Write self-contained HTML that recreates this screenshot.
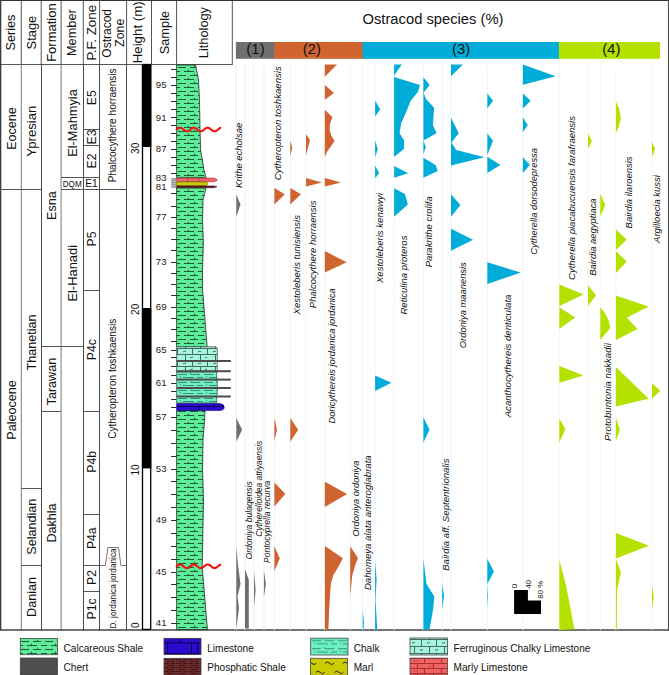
<!DOCTYPE html>
<html><head><meta charset="utf-8"><title>Ostracod chart</title>
<style>html,body{margin:0;padding:0;background:#fff;overflow:hidden}svg{display:block}text{font-family:"Liberation Sans",sans-serif}</style>
</head><body>
<svg width="669" height="675" viewBox="0 0 669 675" font-family='"Liberation Sans", sans-serif'>
<defs>
<pattern id="cshale" patternUnits="userSpaceOnUse" x="177" y="0" width="24" height="8">
 <rect width="24" height="8" fill="#5ded98"/>
 <path d="M1 3.5h8M13 3.5h8M-3 7.5h6M7 7.5h10M21 7.5h6" stroke="#22583a" stroke-width="1"/>
 <path d="M17.5 1.6v2M11.5 5.6v2" stroke="#22583a" stroke-width="0.9"/>
</pattern>
<pattern id="lg_cshale" patternUnits="userSpaceOnUse" x="20" y="638" width="24" height="8">
 <rect width="24" height="8" fill="#5ded98"/>
 <path d="M1 3.5h8M13 3.5h8M-3 7.5h6M7 7.5h10M21 7.5h6" stroke="#22583a" stroke-width="1"/>
 <path d="M17.5 1.6v2M11.5 5.6v2" stroke="#22583a" stroke-width="0.9"/>
</pattern>
<pattern id="fcl" patternUnits="userSpaceOnUse" x="177" y="348" width="30" height="12">
 <rect width="30" height="12" fill="#a6f5df"/>
 <path d="M0 0.5h30M0 6.5h30M0.5 0.5v6M15.5 0.5v6M8.5 6.5v6M23.5 6.5v6" stroke="#456a60" stroke-width="1" fill="none"/>
 <path d="M6 4c1-1.2 2 0 3-1M13 10c1-1.2 2 0 3-1M21 4c1-1.2 2 0 3-1M28 10c1-1.2 2 0 3-1" stroke="#2a3a36" stroke-width="0.8" fill="none"/>
</pattern>
<pattern id="lg_fcl" patternUnits="userSpaceOnUse" x="410" y="639" width="30" height="14">
 <rect width="30" height="14" fill="#a6f5df"/>
 <path d="M0 0.5h30M0 7.5h30M11.5 0.5v7M26.5 0.5v7M4.5 7.5v7M19.5 7.5v7" stroke="#3c5c54" stroke-width="0.9" fill="none"/>
 <path d="M2 4.5c1-1.5 2 0 3-1.2M17 4.5c1-1.5 2 0 3-1.2M10 11h3M25 11h3" stroke="#2a3a36" stroke-width="0.8" fill="none"/>
</pattern>
<pattern id="chalk" patternUnits="userSpaceOnUse" x="177" y="372" width="26" height="8">
 <rect width="26" height="8" fill="#6ef0c6"/>
 <path d="M1 2.5h9M14 2.5h9M6 5.5h11M20 5.5h8" stroke="#3a9070" stroke-width="1"/>
 <path d="M13.5 1v1.5M3.5 4v1.5" stroke="#3a9070" stroke-width="0.8"/>
</pattern>
<pattern id="lg_chalk" patternUnits="userSpaceOnUse" x="311" y="638" width="26" height="8.2">
 <rect width="26" height="8.2" fill="#6cf0c4"/>
 <path d="M1 2.5h9M14 2.5h9M6 5.8h11M20 5.8h8" stroke="#2f8a6c" stroke-width="0.9"/>
 <path d="M13.5 1v1.5M3.5 4.3v1.5" stroke="#2f8a6c" stroke-width="0.7"/>
</pattern>
<pattern id="lime" patternUnits="userSpaceOnUse" x="176.6" y="403" width="30" height="8">
 <rect width="30" height="8" fill="#2a0ccc"/>
 <path d="M0 3.5h30M7.5 0v3.5M22.5 3.5v4.5" stroke="#0a0050" stroke-width="0.9"/>
</pattern>
<pattern id="lg_lime" patternUnits="userSpaceOnUse" x="164" y="638.3" width="30" height="16">
 <rect width="30" height="16" fill="#2a0ccc"/>
 <path d="M0 4.5h30M0 15.5h30M15.5 0v4.5M3.5 4.5v11M27.5 4.5v11" stroke="#0a0050" stroke-width="1"/>
</pattern>
<pattern id="phos" patternUnits="userSpaceOnUse" x="164" y="658" width="12" height="4">
 <rect width="12" height="4" fill="#6a2c2c"/>
 <path d="M0 1.5h5M7 1.5h4M3 3.5h7" stroke="#3a1212" stroke-width="0.8"/>
</pattern>
<pattern id="marl" patternUnits="userSpaceOnUse" x="311" y="658" width="18" height="17">
 <rect width="18" height="17" fill="#c8c600"/>
 <path d="M2 5c2-3 3 1 5-1M10 13c2-3 3 1 5-1" stroke="#222" stroke-width="0.9" fill="none"/>
</pattern>
<pattern id="mlime" patternUnits="userSpaceOnUse" x="410" y="658" width="34" height="10">
 <rect width="34" height="10" fill="#f26262"/>
 <path d="M0 0.5h34M0 5.5h34M14.5 0.5v5M31.5 0.5v5M7.5 5.5v5M23.5 5.5v5" stroke="#9e2a2a" stroke-width="0.9"/>
 <path d="M3 3h6M18 8h5" stroke="#b84040" stroke-width="0.7"/>
</pattern>
</defs>

<rect x="0" y="0" width="669" height="675" fill="#fff"/>
<line x1="21.3" y1="0" x2="21.3" y2="64.5" stroke="#555" stroke-width="1"/>
<line x1="41.2" y1="0" x2="41.2" y2="64.5" stroke="#555" stroke-width="1"/>
<line x1="61.1" y1="0" x2="61.1" y2="64.5" stroke="#555" stroke-width="1"/>
<line x1="83.3" y1="0" x2="83.3" y2="64.5" stroke="#555" stroke-width="1"/>
<line x1="99.6" y1="0" x2="99.6" y2="64.5" stroke="#555" stroke-width="1"/>
<line x1="126.6" y1="0" x2="126.6" y2="64.5" stroke="#555" stroke-width="1"/>
<line x1="151.5" y1="0" x2="151.5" y2="64.5" stroke="#555" stroke-width="1"/>
<line x1="176.6" y1="0" x2="176.6" y2="64.5" stroke="#555" stroke-width="1"/>
<line x1="232.3" y1="0" x2="232.3" y2="64.5" stroke="#555" stroke-width="1"/>
<line x1="0" y1="64.5" x2="232.8" y2="64.5" stroke="#555" stroke-width="1.2"/>
<line x1="21.3" y1="64.5" x2="21.3" y2="630" stroke="#7a7a7a" stroke-width="1"/>
<line x1="41.5" y1="64.5" x2="41.5" y2="630" stroke="#4a4a4a" stroke-width="1"/>
<line x1="61.1" y1="64.5" x2="61.1" y2="630" stroke="#7a7a7a" stroke-width="1"/>
<line x1="83.5" y1="64.5" x2="83.5" y2="630" stroke="#4a4a4a" stroke-width="1"/>
<line x1="99.5" y1="64.5" x2="99.5" y2="630" stroke="#4a4a4a" stroke-width="1"/>
<line x1="126.5" y1="64.5" x2="126.5" y2="630" stroke="#4a4a4a" stroke-width="1"/>
<line x1="0" y1="0.5" x2="669" y2="0.5" stroke="#333" stroke-width="1.2"/>
<line x1="0.65" y1="0" x2="0.65" y2="630" stroke="#3a3a3a" stroke-width="1.3"/>
<line x1="668.5" y1="0" x2="668.5" y2="630.7" stroke="#4a4a4a" stroke-width="1.1"/>
<line x1="0" y1="630" x2="669" y2="630" stroke="#444" stroke-width="1.4"/>
<text transform="translate(15.47,32.60) rotate(-90)" text-anchor="middle" font-size="12.7"  fill="#111">Series</text>
<text transform="translate(35.94,32.60) rotate(-90)" text-anchor="middle" font-size="12.9"  fill="#111">Stage</text>
<text transform="translate(55.98,32.60) rotate(-90)" text-anchor="middle" font-size="13.0"  fill="#111">Formation</text>
<text transform="translate(76.11,32.60) rotate(-90)" text-anchor="middle" font-size="12.8"  fill="#111">Member</text>
<text transform="translate(96.22,32.60) rotate(-90)" text-anchor="middle" font-size="13.4"  fill="#111">P.F. Zone</text>
<text transform="translate(168.61,32.60) rotate(-90)" text-anchor="middle" font-size="12.8"  fill="#111">Sample</text>
<text transform="translate(208.21,32.60) rotate(-90)" text-anchor="middle" font-size="12.8"  fill="#111">Lithology</text>
<text transform="translate(142.39,32.30) rotate(-90)" text-anchor="middle" font-size="13.3"  fill="#111">Height (m)</text>
<text transform="translate(110.72,33.30) rotate(-90)" text-anchor="middle" font-size="12.0"  fill="#111">Ostracod</text>
<text transform="translate(123.96,32.80) rotate(-90)" text-anchor="middle" font-size="12.4"  fill="#111">Zone</text>
<line x1="0" y1="189.5" x2="41.2" y2="189.5" stroke="#555" stroke-width="1"/>
<line x1="61.1" y1="189.5" x2="126.6" y2="189.5" stroke="#555" stroke-width="1"/>
<line x1="61.1" y1="177.5" x2="99.6" y2="177.5" stroke="#555" stroke-width="1"/>
<line x1="83.3" y1="129.5" x2="99.6" y2="129.5" stroke="#555" stroke-width="1"/>
<line x1="83.3" y1="145.5" x2="99.6" y2="145.5" stroke="#555" stroke-width="1"/>
<line x1="83.3" y1="290.5" x2="99.6" y2="290.5" stroke="#555" stroke-width="1"/>
<line x1="41.2" y1="346.5" x2="83.3" y2="346.5" stroke="#555" stroke-width="1"/>
<line x1="41.2" y1="411.5" x2="61.1" y2="411.5" stroke="#555" stroke-width="1"/>
<line x1="83.3" y1="411.5" x2="99.6" y2="411.5" stroke="#555" stroke-width="1"/>
<line x1="21.3" y1="488.5" x2="41.2" y2="488.5" stroke="#555" stroke-width="1"/>
<line x1="83.3" y1="514.5" x2="99.6" y2="514.5" stroke="#555" stroke-width="1"/>
<line x1="21.3" y1="565.5" x2="41.2" y2="565.5" stroke="#555" stroke-width="1"/>
<line x1="83.3" y1="565.5" x2="99.6" y2="565.5" stroke="#555" stroke-width="1"/>
<line x1="83.3" y1="591.5" x2="99.6" y2="591.5" stroke="#555" stroke-width="1"/>
<polyline points="99.6,565.5 105.3,565.5 107.9,547.5 118.5,547.5 120.9,565.5 126.6,565.5" fill="none" stroke="#6a6a6a" stroke-width="0.9"/>
<text transform="translate(15.84,128.50) rotate(-90)" text-anchor="middle" font-size="12.6"  fill="#111">Eocene</text>
<text transform="translate(15.84,410.00) rotate(-90)" text-anchor="middle" font-size="12.6"  fill="#111">Paleocene</text>
<text transform="translate(36.35,131.10) rotate(-90)" text-anchor="middle" font-size="13.2"  fill="#111">Ypresian</text>
<text transform="translate(36.14,342.40) rotate(-90)" text-anchor="middle" font-size="12.6"  fill="#111">Thanetian</text>
<text transform="translate(36.14,526.70) rotate(-90)" text-anchor="middle" font-size="12.6"  fill="#111">Selandian</text>
<text transform="translate(36.14,597.00) rotate(-90)" text-anchor="middle" font-size="12.6"  fill="#111">Danian</text>
<text transform="translate(56.04,205.60) rotate(-90)" text-anchor="middle" font-size="12.6"  fill="#111">Esna</text>
<text transform="translate(56.04,381.60) rotate(-90)" text-anchor="middle" font-size="12.6"  fill="#111">Tarawan</text>
<text transform="translate(56.04,523.00) rotate(-90)" text-anchor="middle" font-size="12.6"  fill="#111">Dakhla</text>
<text transform="translate(77.11,123.00) rotate(-90)" text-anchor="middle" font-size="12.8"  fill="#111">El-Mahmyia</text>
<text transform="translate(76.94,273.30) rotate(-90)" text-anchor="middle" font-size="12.9"  fill="#111">El-Hanadi</text>
<text x="72.2" y="186.8" font-size="8.2" text-anchor="middle" fill="#111" >DQM</text>
<text transform="translate(96.39,97.70) rotate(-90)" text-anchor="middle" font-size="12.2"  fill="#111">E5</text>
<text transform="translate(96.39,137.00) rotate(-90)" text-anchor="middle" font-size="12.2"  fill="#111">E3</text>
<text transform="translate(96.39,161.00) rotate(-90)" text-anchor="middle" font-size="12.2"  fill="#111">E2</text>
<text transform="translate(96.39,239.00) rotate(-90)" text-anchor="middle" font-size="12.2"  fill="#111">P5</text>
<text transform="translate(96.39,349.70) rotate(-90)" text-anchor="middle" font-size="12.2"  fill="#111">P4c</text>
<text transform="translate(96.39,461.80) rotate(-90)" text-anchor="middle" font-size="12.2"  fill="#111">P4b</text>
<text transform="translate(96.39,538.20) rotate(-90)" text-anchor="middle" font-size="12.2"  fill="#111">P4a</text>
<text transform="translate(96.39,577.50) rotate(-90)" text-anchor="middle" font-size="12.2"  fill="#111">P2</text>
<text transform="translate(96.39,608.90) rotate(-90)" text-anchor="middle" font-size="12.2"  fill="#111">P1c</text>
<text x="91.5" y="187.2" font-size="10.2" text-anchor="middle" fill="#111" >E1</text>
<text transform="translate(116.14,125.30) rotate(-90)" text-anchor="middle" font-size="10.1"  fill="#111">Phalcocythere horraensis</text>
<text transform="translate(116.44,378.80) rotate(-90)" text-anchor="middle" font-size="10.1"  fill="#111">Cytheropteron toshkaensis</text>
<text transform="translate(115.99,588.40) rotate(-90)" text-anchor="middle" font-size="8.3"  fill="#111">D. jordanica jordanica</text>
<rect x="142.5" y="64.5" width="8.199999999999989" height="564.9" fill="#fff" stroke="#000" stroke-width="1.3"/>
<rect x="141.9" y="64.5" width="9.399999999999988" height="82.5" fill="#000"/>
<rect x="141.9" y="308" width="9.399999999999988" height="160.39999999999998" fill="#000"/>
<text transform="translate(139.04,148.30) rotate(-90)" text-anchor="middle" font-size="10.1"  fill="#111">30</text>
<text transform="translate(139.04,309.30) rotate(-90)" text-anchor="middle" font-size="10.1"  fill="#111">20</text>
<text transform="translate(139.04,470.00) rotate(-90)" text-anchor="middle" font-size="10.1"  fill="#111">10</text>
<text transform="translate(139.04,625.30) rotate(-90)" text-anchor="middle" font-size="10.1"  fill="#111">0</text>
<line x1="171.1" y1="69.5" x2="176.6" y2="69.5" stroke="#2a2a2a" stroke-width="1"/>
<line x1="171.1" y1="77.5" x2="176.6" y2="77.5" stroke="#2a2a2a" stroke-width="1"/>
<line x1="171.1" y1="85.5" x2="176.6" y2="85.5" stroke="#2a2a2a" stroke-width="1"/>
<line x1="171.1" y1="93.5" x2="176.6" y2="93.5" stroke="#2a2a2a" stroke-width="1"/>
<line x1="171.1" y1="101.5" x2="176.6" y2="101.5" stroke="#2a2a2a" stroke-width="1"/>
<line x1="171.1" y1="109.5" x2="176.6" y2="109.5" stroke="#2a2a2a" stroke-width="1"/>
<line x1="171.1" y1="117.5" x2="176.6" y2="117.5" stroke="#2a2a2a" stroke-width="1"/>
<line x1="171.1" y1="125.5" x2="176.6" y2="125.5" stroke="#2a2a2a" stroke-width="1"/>
<line x1="171.1" y1="133.5" x2="176.6" y2="133.5" stroke="#2a2a2a" stroke-width="1"/>
<line x1="171.1" y1="141.5" x2="176.6" y2="141.5" stroke="#2a2a2a" stroke-width="1"/>
<line x1="171.1" y1="149.5" x2="176.6" y2="149.5" stroke="#2a2a2a" stroke-width="1"/>
<line x1="171.1" y1="157.5" x2="176.6" y2="157.5" stroke="#2a2a2a" stroke-width="1"/>
<line x1="171.1" y1="165.5" x2="176.6" y2="165.5" stroke="#2a2a2a" stroke-width="1"/>
<line x1="171.1" y1="173.5" x2="176.6" y2="173.5" stroke="#2a2a2a" stroke-width="1"/>
<line x1="171.1" y1="193.5" x2="176.6" y2="193.5" stroke="#2a2a2a" stroke-width="1"/>
<line x1="171.1" y1="206.5" x2="176.6" y2="206.5" stroke="#2a2a2a" stroke-width="1"/>
<line x1="171.1" y1="217.5" x2="176.6" y2="217.5" stroke="#2a2a2a" stroke-width="1"/>
<line x1="171.1" y1="228.5" x2="176.6" y2="228.5" stroke="#2a2a2a" stroke-width="1"/>
<line x1="171.1" y1="239.5" x2="176.6" y2="239.5" stroke="#2a2a2a" stroke-width="1"/>
<line x1="171.1" y1="250.5" x2="176.6" y2="250.5" stroke="#2a2a2a" stroke-width="1"/>
<line x1="171.1" y1="262.5" x2="176.6" y2="262.5" stroke="#2a2a2a" stroke-width="1"/>
<line x1="171.1" y1="273.5" x2="176.6" y2="273.5" stroke="#2a2a2a" stroke-width="1"/>
<line x1="171.1" y1="284.5" x2="176.6" y2="284.5" stroke="#2a2a2a" stroke-width="1"/>
<line x1="171.1" y1="295.5" x2="176.6" y2="295.5" stroke="#2a2a2a" stroke-width="1"/>
<line x1="171.1" y1="307.5" x2="176.6" y2="307.5" stroke="#2a2a2a" stroke-width="1"/>
<line x1="171.1" y1="318.5" x2="176.6" y2="318.5" stroke="#2a2a2a" stroke-width="1"/>
<line x1="171.1" y1="329.5" x2="176.6" y2="329.5" stroke="#2a2a2a" stroke-width="1"/>
<line x1="171.1" y1="341.5" x2="176.6" y2="341.5" stroke="#2a2a2a" stroke-width="1"/>
<line x1="171.1" y1="350.5" x2="176.6" y2="350.5" stroke="#2a2a2a" stroke-width="1"/>
<line x1="171.1" y1="357.5" x2="176.6" y2="357.5" stroke="#2a2a2a" stroke-width="1"/>
<line x1="171.1" y1="366.5" x2="176.6" y2="366.5" stroke="#2a2a2a" stroke-width="1"/>
<line x1="171.1" y1="375.5" x2="176.6" y2="375.5" stroke="#2a2a2a" stroke-width="1"/>
<line x1="171.1" y1="383.5" x2="176.6" y2="383.5" stroke="#2a2a2a" stroke-width="1"/>
<line x1="171.1" y1="391.5" x2="176.6" y2="391.5" stroke="#2a2a2a" stroke-width="1"/>
<line x1="171.1" y1="399.5" x2="176.6" y2="399.5" stroke="#2a2a2a" stroke-width="1"/>
<line x1="171.1" y1="407.5" x2="176.6" y2="407.5" stroke="#2a2a2a" stroke-width="1"/>
<line x1="171.1" y1="417.5" x2="176.6" y2="417.5" stroke="#2a2a2a" stroke-width="1"/>
<line x1="171.1" y1="430.5" x2="176.6" y2="430.5" stroke="#2a2a2a" stroke-width="1"/>
<line x1="171.1" y1="443.5" x2="176.6" y2="443.5" stroke="#2a2a2a" stroke-width="1"/>
<line x1="171.1" y1="456.5" x2="176.6" y2="456.5" stroke="#2a2a2a" stroke-width="1"/>
<line x1="171.1" y1="469.5" x2="176.6" y2="469.5" stroke="#2a2a2a" stroke-width="1"/>
<line x1="171.1" y1="481.5" x2="176.6" y2="481.5" stroke="#2a2a2a" stroke-width="1"/>
<line x1="171.1" y1="494.5" x2="176.6" y2="494.5" stroke="#2a2a2a" stroke-width="1"/>
<line x1="171.1" y1="507.5" x2="176.6" y2="507.5" stroke="#2a2a2a" stroke-width="1"/>
<line x1="171.1" y1="520.5" x2="176.6" y2="520.5" stroke="#2a2a2a" stroke-width="1"/>
<line x1="171.1" y1="533.5" x2="176.6" y2="533.5" stroke="#2a2a2a" stroke-width="1"/>
<line x1="171.1" y1="546.5" x2="176.6" y2="546.5" stroke="#2a2a2a" stroke-width="1"/>
<line x1="171.1" y1="559.5" x2="176.6" y2="559.5" stroke="#2a2a2a" stroke-width="1"/>
<line x1="171.1" y1="572.5" x2="176.6" y2="572.5" stroke="#2a2a2a" stroke-width="1"/>
<line x1="171.1" y1="584.5" x2="176.6" y2="584.5" stroke="#2a2a2a" stroke-width="1"/>
<line x1="171.1" y1="597.5" x2="176.6" y2="597.5" stroke="#2a2a2a" stroke-width="1"/>
<line x1="171.1" y1="610.5" x2="176.6" y2="610.5" stroke="#2a2a2a" stroke-width="1"/>
<line x1="171.1" y1="623.5" x2="176.6" y2="623.5" stroke="#2a2a2a" stroke-width="1"/>
<rect x="171.3" y="178" width="5.3" height="10" fill="#9a9a9a"/>
<line x1="171.3" y1="179.5" x2="176.6" y2="179.5" stroke="#c8c8c8" stroke-width="0.6"/>
<line x1="171.3" y1="181.5" x2="176.6" y2="181.5" stroke="#c8c8c8" stroke-width="0.6"/>
<line x1="171.3" y1="183.5" x2="176.6" y2="183.5" stroke="#c8c8c8" stroke-width="0.6"/>
<line x1="171.3" y1="185.5" x2="176.6" y2="185.5" stroke="#c8c8c8" stroke-width="0.6"/>
<line x1="171.3" y1="187" x2="176.6" y2="187" stroke="#c8c8c8" stroke-width="0.6"/>
<text x="166.5" y="88.0" font-size="9.6" text-anchor="end" fill="#1a1a1a" >95</text>
<text x="166.5" y="120.5" font-size="9.6" text-anchor="end" fill="#1a1a1a" >91</text>
<text x="166.5" y="152.39999999999998" font-size="9.6" text-anchor="end" fill="#1a1a1a" >87</text>
<text x="166.5" y="181.39999999999998" font-size="9.6" text-anchor="end" fill="#1a1a1a" >83</text>
<text x="166.5" y="190.0" font-size="9.6" text-anchor="end" fill="#1a1a1a" >81</text>
<text x="166.5" y="220.1" font-size="9.6" text-anchor="end" fill="#1a1a1a" >77</text>
<text x="166.5" y="265.09999999999997" font-size="9.6" text-anchor="end" fill="#1a1a1a" >73</text>
<text x="166.5" y="309.7" font-size="9.6" text-anchor="end" fill="#1a1a1a" >69</text>
<text x="166.5" y="353.2" font-size="9.6" text-anchor="end" fill="#1a1a1a" >65</text>
<text x="166.5" y="386.09999999999997" font-size="9.6" text-anchor="end" fill="#1a1a1a" >61</text>
<text x="166.5" y="420.09999999999997" font-size="9.6" text-anchor="end" fill="#1a1a1a" >57</text>
<text x="166.5" y="471.7" font-size="9.6" text-anchor="end" fill="#1a1a1a" >53</text>
<text x="166.5" y="522.7" font-size="9.6" text-anchor="end" fill="#1a1a1a" >49</text>
<text x="166.5" y="574.7" font-size="9.6" text-anchor="end" fill="#1a1a1a" >45</text>
<text x="166.5" y="626.4000000000001" font-size="9.6" text-anchor="end" fill="#1a1a1a" >41</text>
<polygon points="176.6,65 195.6,65 198.5,80 199.5,100 200,130 200.6,150 204,170 206,177.4 176.6,177.4" fill="url(#cshale)" stroke="#2a2a2a" stroke-width="0.8"/>
<polygon points="176.6,188 206,188 203,200 202.5,220 203.4,242 202.5,270 202.6,290 205,320 207.2,346.8 176.6,346.8" fill="url(#cshale)" stroke="#2a2a2a" stroke-width="0.8"/>
<polygon points="176.6,410.6 205,410.6 204.6,420 203,440 202.5,470 203.5,500 202.2,567 207.4,629.5 176.6,629.5" fill="url(#cshale)" stroke="#2a2a2a" stroke-width="0.8"/>
<path d="M176.6 346.8 H216 Q217.5 347.5 217.3 350 V372 H176.6Z" fill="url(#fcl)" stroke="#3a4a46" stroke-width="0.7"/>
<path d="M176.6 372 H216.5 Q218.5 387 216.5 403 H176.6Z" fill="url(#chalk)" stroke="#3a4a46" stroke-width="0.7"/>
<rect x="176.6" y="360.0" width="54.2" height="2" fill="#4d4d4d"/>
<rect x="176.6" y="370.2" width="54.2" height="2" fill="#4d4d4d"/>
<rect x="176.6" y="378.6" width="54.2" height="2" fill="#4d4d4d"/>
<rect x="176.6" y="387.0" width="54.2" height="2" fill="#4d4d4d"/>
<rect x="176.6" y="395.5" width="54.2" height="2" fill="#4d4d4d"/>
<path d="M176.6 403.6 H220 Q224.5 404.5 224.2 407.1 Q224.5 410 220 410.6 H176.6Z" fill="url(#lime)" stroke="#1a0080" stroke-width="0.6"/>
<path d="M176.6 178.1 H214.5 L217.5 179.9 L214.5 181.7 H176.6Z" fill="#f26464" stroke="#a03030" stroke-width="0.6"/>
<line x1="187.5" y1="178.1" x2="187.5" y2="181.7" stroke="#803030" stroke-width="0.6"/>
<line x1="199" y1="178.1" x2="199" y2="181.7" stroke="#803030" stroke-width="0.6"/>
<path d="M176.6 182 H206.5 Q209 183.7 206.5 185.5 H176.6Z" fill="#cccb00" stroke="#6a6a00" stroke-width="0.6"/>
<path d="M176.6 185.9 H214 L217 186.8 L214 187.7 H176.6Z" fill="#5a1c1c" stroke="#3a0a0a" stroke-width="0.5"/>
<polyline points="176.6,129.50 177.1,129.09 177.6,128.70 178.1,128.36 178.6,128.07 179.1,127.86 179.6,127.73 180.1,127.70 180.6,127.76 181.1,127.91 181.6,128.15 182.1,128.45 182.6,128.81 183.1,129.21 183.6,129.62 184.2,130.03 184.7,130.40 185.2,130.73 185.7,131.00 186.2,131.19 186.7,131.29 187.2,131.29 187.7,131.20 188.2,131.03 188.7,130.77 189.2,130.44 189.7,130.07 190.2,129.67 190.7,129.26 191.2,128.86 191.7,128.49 192.2,128.18 192.7,127.94 193.2,127.77 193.7,127.70 194.2,127.73 194.7,127.84 195.2,128.04 195.7,128.32 196.2,128.66 196.7,129.04 197.2,129.45 197.7,129.86 198.2,130.25 198.8,130.60 199.3,130.90 199.8,131.12 200.3,131.26 200.8,131.30 201.3,131.25 201.8,131.11 202.3,130.88 202.8,130.58 203.3,130.23 203.8,129.84 204.3,129.43 204.8,129.02 205.3,128.64 205.8,128.30 206.3,128.03 206.8,127.83 207.3,127.72 207.8,127.71 208.3,127.78 208.8,127.95 209.3,128.20 209.8,128.51 210.3,128.88 210.8,129.28 211.3,129.69 211.8,130.10 212.3,130.47 212.8,130.79 213.4,131.04 213.9,131.21 214.4,131.29 214.9,131.28 215.4,131.18 215.9,130.99 216.4,130.72 216.9,130.38 217.4,130.00 217.9,129.60 218.4,129.19 218.9,128.79 219.4,128.43 219.9,128.13 220.4,127.90" fill="none" stroke="#f21010" stroke-width="2.1" stroke-linecap="round"/>
<polyline points="176.6,566.30 177.1,565.89 177.6,565.51 178.1,565.16 178.6,564.87 179.1,564.66 179.6,564.54 180.1,564.50 180.6,564.56 181.1,564.71 181.6,564.94 182.1,565.25 182.6,565.60 183.1,566.00 183.6,566.41 184.1,566.81 184.6,567.19 185.1,567.52 185.6,567.79 186.1,567.98 186.6,568.08 187.1,568.09 187.7,568.01 188.2,567.84 188.7,567.58 189.2,567.26 189.7,566.90 190.2,566.49 190.7,566.08 191.2,565.68 191.7,565.32 192.2,565.00 192.7,564.75 193.2,564.58 193.7,564.51 194.2,564.52 194.7,564.63 195.2,564.82 195.7,565.09 196.2,565.43 196.7,565.81 197.2,566.21 197.7,566.62 198.2,567.02 198.7,567.37 199.2,567.67 199.7,567.90 200.2,568.05 200.7,568.10 201.2,568.06 201.7,567.93 202.2,567.71 202.7,567.42 203.2,567.08 203.7,566.69 204.2,566.28 204.7,565.87 205.2,565.49 205.7,565.14 206.2,564.86 206.7,564.65 207.2,564.53 207.7,564.50 208.2,564.57 208.7,564.72 209.2,564.96 209.8,565.26 210.3,565.62 210.8,566.02 211.3,566.43 211.8,566.83 212.3,567.21 212.8,567.54 213.3,567.80 213.8,567.99 214.3,568.09 214.8,568.09 215.3,568.00 215.8,567.83 216.3,567.57 216.8,567.25 217.3,566.87 217.8,566.47 218.3,566.06 218.8,565.66 219.3,565.30 219.8,564.99 220.3,564.74" fill="none" stroke="#f21010" stroke-width="2.1" stroke-linecap="round"/>
<text x="362.5" y="23.7" font-size="14.75" text-anchor="start" fill="#111" >Ostracod species (%)</text>
<rect x="235.9" y="42" width="39" height="16.8" fill="#6f6f6f"/>
<rect x="274.4" y="42" width="88.7" height="16.8" fill="#cf6431"/>
<rect x="362.6" y="42" width="196.8" height="16.8" fill="#02acd9"/>
<rect x="558.9" y="42" width="101.1" height="16.8" fill="#b4e100"/>
<text x="255.5" y="54.4" font-size="15" text-anchor="middle" fill="#111" >(1)</text>
<text x="311.8" y="54.4" font-size="15" text-anchor="middle" fill="#111" >(2)</text>
<text x="461.1" y="54.4" font-size="15" text-anchor="middle" fill="#111" >(3)</text>
<text x="611.3" y="54.4" font-size="15" text-anchor="middle" fill="#111" >(4)</text>
<line x1="236.3" y1="64.5" x2="236.3" y2="630" stroke="#f1f1f1" stroke-width="1"/>
<line x1="245" y1="64.5" x2="245" y2="630" stroke="#f1f1f1" stroke-width="1"/>
<line x1="254" y1="64.5" x2="254" y2="630" stroke="#f1f1f1" stroke-width="1"/>
<line x1="264" y1="64.5" x2="264" y2="630" stroke="#f1f1f1" stroke-width="1"/>
<line x1="274.4" y1="64.5" x2="274.4" y2="630" stroke="#f9f2ee" stroke-width="1"/>
<line x1="290.3" y1="64.5" x2="290.3" y2="630" stroke="#f9f2ee" stroke-width="1"/>
<line x1="306" y1="64.5" x2="306" y2="630" stroke="#f9f2ee" stroke-width="1"/>
<line x1="324.8" y1="64.5" x2="324.8" y2="630" stroke="#f9f2ee" stroke-width="1"/>
<line x1="350.3" y1="64.5" x2="350.3" y2="630" stroke="#f9f2ee" stroke-width="1"/>
<line x1="362.6" y1="64.5" x2="362.6" y2="630" stroke="#ecf7fb" stroke-width="1"/>
<line x1="375.1" y1="64.5" x2="375.1" y2="630" stroke="#ecf7fb" stroke-width="1"/>
<line x1="394.1" y1="64.5" x2="394.1" y2="630" stroke="#ecf7fb" stroke-width="1"/>
<line x1="423.4" y1="64.5" x2="423.4" y2="630" stroke="#ecf7fb" stroke-width="1"/>
<line x1="442.2" y1="64.5" x2="442.2" y2="630" stroke="#ecf7fb" stroke-width="1"/>
<line x1="451" y1="64.5" x2="451" y2="630" stroke="#ecf7fb" stroke-width="1"/>
<line x1="487.3" y1="64.5" x2="487.3" y2="630" stroke="#ecf7fb" stroke-width="1"/>
<line x1="522.9" y1="64.5" x2="522.9" y2="630" stroke="#ecf7fb" stroke-width="1"/>
<line x1="559.3" y1="64.5" x2="559.3" y2="630" stroke="#f7faea" stroke-width="1"/>
<line x1="588" y1="64.5" x2="588" y2="630" stroke="#f7faea" stroke-width="1"/>
<line x1="600.3" y1="64.5" x2="600.3" y2="630" stroke="#f7faea" stroke-width="1"/>
<line x1="615.9" y1="64.5" x2="615.9" y2="630" stroke="#f7faea" stroke-width="1"/>
<line x1="652" y1="64.5" x2="652" y2="630" stroke="#f7faea" stroke-width="1"/>
<polygon points="236.3,194.6 240.5,204.6 236.3,216.8" fill="#6f6f6f"/>
<polygon points="236.3,418.0 242.1,429.8 236.3,441.8" fill="#6f6f6f"/>
<polygon points="236.3,546.3 238.0,565.0 240.5,584.0 237.5,596.5 239.0,608.0 236.3,629.0" fill="#6f6f6f"/>
<polygon points="245.0,569.3 248.8,579.7 248.8,628.6 245.0,628.6" fill="#6f6f6f"/>
<polygon points="254.0,571.0 255.6,590.0 254.0,607.0" fill="#6f6f6f"/>
<polygon points="263.9,571.0 265.9,584.0 263.9,596.5" fill="#6f6f6f"/>
<polygon points="274.4,188.0 284.8,194.3 274.4,204.6" fill="#cf6431"/>
<polygon points="274.4,418.0 277.0,429.8 274.4,441.3" fill="#cf6431"/>
<polygon points="274.4,482.4 285.4,494.0 274.4,506.5" fill="#cf6431"/>
<polygon points="274.4,546.2 279.8,558.4 274.4,571.0" fill="#cf6431"/>
<polygon points="290.3,140.5 292.3,148.0 290.3,156.2" fill="#cf6431"/>
<polygon points="290.3,188.0 301.0,194.3 290.3,204.6" fill="#cf6431"/>
<polygon points="290.3,418.0 298.2,429.8 290.3,441.8" fill="#cf6431"/>
<polygon points="306.0,134.3 310.0,140.0 306.0,155.2" fill="#cf6431"/>
<polygon points="306.0,178.0 322.0,182.4 306.0,186.6" fill="#cf6431"/>
<polygon points="324.8,64.5 337.0,64.5 324.8,76.7" fill="#cf6431"/>
<polygon points="324.8,85.0 334.0,93.0 324.8,99.8" fill="#cf6431"/>
<polygon points="324.8,109.8 332.4,117.2 329.9,123.9 329.6,129.8 331.4,135.8 334.6,141.0 329.9,147.7 326.9,152.1 324.8,157.3" fill="#cf6431"/>
<polygon points="324.8,178.0 341.0,182.4 324.8,186.6" fill="#cf6431"/>
<polygon points="324.8,251.1 346.7,262.2 324.8,272.6" fill="#cf6431"/>
<polygon points="324.8,481.8 347.2,494.0 324.8,506.9" fill="#cf6431"/>
<polygon points="324.9,545.9 342.9,558.3 337.5,568.2 333.3,575.2 331.2,582.3 330.5,587.9 329.1,610.4 328.4,629.4 324.9,629.4" fill="#cf6431"/>
<polygon points="350.2,546.3 358.0,558.0 355.1,565.4 352.3,575.2 350.9,589.3 350.2,596.3" fill="#cf6431"/>
<polygon points="362.7,610.4 363.9,622.0 363.6,629.4 362.7,629.4" fill="#02acd9"/>
<polygon points="375.1,100.8 380.3,109.2 375.1,116.5" fill="#02acd9"/>
<polygon points="375.1,140.5 377.8,148.9 375.1,157.3" fill="#02acd9"/>
<polygon points="375.1,165.6 379.2,173.0 375.1,178.2" fill="#02acd9"/>
<polygon points="375.1,375.4 391.4,382.8 375.1,391.1" fill="#02acd9"/>
<polygon points="375.1,559.9 376.6,580.0 375.5,600.0 376.6,618.0 377.2,630.0 375.1,630.0" fill="#02acd9"/>
<polygon points="394.1,64.5 401.8,64.5 394.1,75.7" fill="#02acd9"/>
<polygon points="394.1,77.0 419.9,85.1 418.1,91.8 410.7,100.7 406.3,111.8 401.1,123.6 399.6,133.2 404.1,140.6 404.1,148.8 394.1,156.9" fill="#02acd9"/>
<polygon points="394.1,166.1 408.3,173.3 394.1,177.8" fill="#02acd9"/>
<polygon points="394.1,188.3 405.0,193.9 407.8,204.4 394.1,216.7" fill="#02acd9"/>
<polygon points="423.4,77.2 429.7,85.1 423.4,93.0" fill="#02acd9"/>
<polygon points="423.4,92.5 426.2,99.2 429.9,102.9 434.1,108.1 432.9,125.1 436.6,133.2 423.4,140.6" fill="#02acd9"/>
<polygon points="423.4,140.5 425.9,147.0 423.4,154.1" fill="#02acd9"/>
<polygon points="423.4,157.8 435.6,165.0 437.8,171.1 423.4,177.8" fill="#02acd9"/>
<polygon points="423.4,417.3 429.5,429.8 423.4,442.4" fill="#02acd9"/>
<polygon points="423.4,558.8 426.5,584.0 434.3,596.5 433.2,609.0 429.5,629.5 423.4,630.0" fill="#02acd9"/>
<polygon points="442.2,584.0 444.1,596.0 442.2,609.0" fill="#02acd9"/>
<polygon points="451.0,64.5 462.9,64.5 451.0,76.3" fill="#02acd9"/>
<polygon points="451.0,117.5 458.7,133.2 451.5,142.6 456.2,150.0 484.5,157.3 451.0,165.6" fill="#02acd9"/>
<polygon points="451.0,194.2 460.4,205.1 451.0,216.8" fill="#02acd9"/>
<polygon points="451.0,228.7 473.0,239.8 451.0,250.7" fill="#02acd9"/>
<polygon points="487.3,93.5 493.0,100.8 487.3,108.5" fill="#02acd9"/>
<polygon points="487.3,133.6 493.0,140.5 487.3,155.2" fill="#02acd9"/>
<polygon points="487.3,156.7 500.5,165.0 487.3,173.0" fill="#02acd9"/>
<polygon points="487.3,262.2 520.8,272.6 487.3,284.1" fill="#02acd9"/>
<polygon points="487.3,558.8 493.9,571.4 487.3,584.0 488.0,596.0 487.3,609.0" fill="#02acd9"/>
<polygon points="522.9,64.6 555.7,76.3 522.9,84.7" fill="#02acd9"/>
<polygon points="522.9,93.5 530.6,100.8 522.9,108.5" fill="#02acd9"/>
<polygon points="522.9,117.5 527.7,124.9 522.9,132.2" fill="#02acd9"/>
<polygon points="522.9,157.3 529.8,165.0 522.9,173.0" fill="#02acd9"/>
<polygon points="559.3,284.6 583.6,294.6 559.3,306.1" fill="#b4e100"/>
<polygon points="559.3,307.2 575.2,317.6 559.3,329.0" fill="#b4e100"/>
<polygon points="559.3,366.0 583.6,375.4 559.3,382.8" fill="#b4e100"/>
<polygon points="559.3,418.3 565.4,429.2 559.3,442.4" fill="#b4e100"/>
<polygon points="559.3,559.8 566.0,585.0 574.4,629.3 559.3,630.0" fill="#b4e100"/>
<polygon points="588.0,133.6 591.8,140.9 588.0,148.8" fill="#b4e100"/>
<polygon points="588.0,285.0 596.0,295.3 588.0,306.1" fill="#b4e100"/>
<polygon points="600.3,193.8 605.3,204.9 600.3,216.5" fill="#b4e100"/>
<polygon points="600.3,307.2 605.0,313.0 608.5,320.0 610.4,327.8 600.3,339.9" fill="#b4e100"/>
<polygon points="615.9,101.5 619.0,108.0 620.9,118.0 619.0,126.0 615.9,133.0" fill="#b4e100"/>
<polygon points="615.9,229.4 626.7,239.4 615.9,250.1" fill="#b4e100"/>
<polygon points="615.9,251.2 626.7,261.5 615.9,273.0" fill="#b4e100"/>
<polygon points="615.9,295.6 648.6,306.4 626.7,317.8 637.5,329.1 615.9,339.9" fill="#b4e100"/>
<polygon points="615.9,366.9 648.6,398.8 615.9,406.4" fill="#b4e100"/>
<polygon points="615.9,418.0 619.9,429.8 615.9,441.1" fill="#b4e100"/>
<polygon points="615.9,533.0 649.0,545.7 615.9,558.4" fill="#b4e100"/>
<polygon points="615.9,558.4 620.9,572.4 617.0,590.0 616.8,630.0 615.9,630.0" fill="#b4e100"/>
<polygon points="652.0,141.9 655.1,149.0 652.0,157.0" fill="#b4e100"/>
<polygon points="652.0,383.2 660.2,390.8 652.0,398.8" fill="#b4e100"/>
<polygon points="652.0,585.0 653.8,597.0 652.0,610.4" fill="#b4e100"/>
<text transform="translate(242.05,155.40) rotate(-90)" text-anchor="middle" font-size="9.46" font-style="italic" fill="#111">Krithe echolsae</text>
<text transform="translate(251.81,520.35) rotate(-90)" text-anchor="middle" font-size="8.61" font-style="italic" fill="#111">Ordoniya bulaqensis</text>
<text transform="translate(261.56,488.65) rotate(-90)" text-anchor="middle" font-size="8.43" font-style="italic" fill="#111">Cytherelloidea attiyaensis</text>
<text transform="translate(269.98,521.85) rotate(-90)" text-anchor="middle" font-size="8.51" font-style="italic" fill="#111">Pontocyprella recurva</text>
<text transform="translate(281.18,123.30) rotate(-90)" text-anchor="middle" font-size="9.58" font-style="italic" fill="#111">Cytheropteron toshkaensis</text>
<text transform="translate(299.67,264.75) rotate(-90)" text-anchor="middle" font-size="9.52" font-style="italic" fill="#111">Xestoleberis tunisiensis</text>
<text transform="translate(316.37,254.35) rotate(-90)" text-anchor="middle" font-size="9.54" font-style="italic" fill="#111">Phalcocythere horraensis</text>
<text transform="translate(335.11,355.90) rotate(-90)" text-anchor="middle" font-size="9.33" font-style="italic" fill="#111">Doricythereis jordanica jordanica</text>
<text transform="translate(359.22,498.65) rotate(-90)" text-anchor="middle" font-size="9.34" font-style="italic" fill="#111">Ordoniya ordoniya</text>
<text transform="translate(371.10,522.70) rotate(-90)" text-anchor="middle" font-size="9.64" font-style="italic" fill="#111">Dahomeya alata anteroglabrata</text>
<text transform="translate(383.18,238.10) rotate(-90)" text-anchor="middle" font-size="9.58" font-style="italic" fill="#111">Xestoleberis kenawyi</text>
<text transform="translate(406.55,275.05) rotate(-90)" text-anchor="middle" font-size="9.46" font-style="italic" fill="#111">Reticulina proteros</text>
<text transform="translate(431.65,231.85) rotate(-90)" text-anchor="middle" font-size="9.48" font-style="italic" fill="#111">Parakrithe crolifa</text>
<text transform="translate(448.50,514.65) rotate(-90)" text-anchor="middle" font-size="9.64" font-style="italic" fill="#111">Bairdia aff. Septentrionalis</text>
<text transform="translate(466.23,305.20) rotate(-90)" text-anchor="middle" font-size="9.38" font-style="italic" fill="#111">Ordoniya maanensis</text>
<text transform="translate(510.69,355.95) rotate(-90)" text-anchor="middle" font-size="9.6" font-style="italic" fill="#111">Acanthocythereis denticulata</text>
<text transform="translate(537.43,201.40) rotate(-90)" text-anchor="middle" font-size="9.39" font-style="italic" fill="#111">Cytherella dorsodepressa</text>
<text transform="translate(574.67,198.00) rotate(-90)" text-anchor="middle" font-size="9.55" font-style="italic" fill="#111">Cytherella piacabucuensis farafraensis</text>
<text transform="translate(595.63,237.10) rotate(-90)" text-anchor="middle" font-size="9.41" font-style="italic" fill="#111">Bairdia aegyptiaca</text>
<text transform="translate(610.70,392.10) rotate(-90)" text-anchor="middle" font-size="9.65" font-style="italic" fill="#111">Protobuntonia nakkadii</text>
<text transform="translate(631.85,192.40) rotate(-90)" text-anchor="middle" font-size="9.46" font-style="italic" fill="#111">Bairdia ilaroensis</text>
<text transform="translate(659.85,209.00) rotate(-90)" text-anchor="middle" font-size="9.46" font-style="italic" fill="#111">Argilloecia kussi</text>
<path d="M514.1 590.1 H527.9 V600.6 H541 V613.9 H514.1Z" fill="#000"/>
<text transform="translate(517.28,586.10) rotate(-90)" text-anchor="middle" font-size="8.0"  fill="#111">0</text>
<text transform="translate(530.98,584.40) rotate(-90)" text-anchor="middle" font-size="8.0"  fill="#111">40</text>
<text transform="translate(543.11,589.80) rotate(-90)" text-anchor="middle" font-size="7.8"  fill="#111">80 %</text>
<rect x="20.3" y="638.4" width="37.1" height="16.3" fill="url(#lg_cshale)" stroke="#444" stroke-width="0.8"/>
<rect x="20.3" y="658" width="37.1" height="17" fill="#4e4e4e" stroke="#444" stroke-width="0.8"/>
<rect x="164" y="638.3" width="37" height="16.3" fill="url(#lg_lime)" stroke="#444" stroke-width="0.8"/>
<rect x="164" y="658.3" width="37" height="17" fill="url(#phos)" stroke="#444" stroke-width="0.8"/>
<rect x="310.7" y="638.2" width="37.3" height="16.8" fill="url(#lg_chalk)" stroke="#444" stroke-width="0.8"/>
<rect x="310.5" y="658.3" width="37.1" height="17" fill="#cccb00" stroke="#444" stroke-width="0.8"/>
<clipPath id="mclip"><rect x="310.9" y="658.7" width="36.3" height="16.3"/></clipPath>
<g clip-path="url(#mclip)" stroke="#222" stroke-width="1" fill="none"><path d="M307.4 663.3 q2.2 -2.6 4.4 0 t4.4 0"/><path d="M325.1 663.3 q2.2 -2.6 4.4 0 t4.4 0"/><path d="M342.8 663.3 q2.2 -2.6 4.4 0 t4.4 0"/><path d="M315.8 672.4 q2.2 -2.6 4.4 0 t4.4 0"/><path d="M334.5 672.4 q2.2 -2.6 4.4 0 t4.4 0"/></g>
<rect x="410" y="638" width="37.4" height="17" fill="url(#lg_fcl)" stroke="#444" stroke-width="0.8"/>
<rect x="410" y="658.1" width="37.4" height="17" fill="url(#mlime)" stroke="#444" stroke-width="0.8"/>
<text x="63.5" y="651.7" font-size="10.1" text-anchor="start" fill="#111" >Calcareous Shale</text>
<text x="63.5" y="671.1" font-size="10.1" text-anchor="start" fill="#111" >Chert</text>
<text x="207.2" y="651.7" font-size="10.1" text-anchor="start" fill="#111" >Limestone</text>
<text x="207.2" y="671.1" font-size="10.1" text-anchor="start" fill="#111" >Phosphatic Shale</text>
<text x="353.7" y="651.7" font-size="10.1" text-anchor="start" fill="#111" >Chalk</text>
<text x="353.7" y="671.1" font-size="10.1" text-anchor="start" fill="#111" >Marl</text>
<text x="453.5" y="651.7" font-size="10.1" text-anchor="start" fill="#111" >Ferruginous Chalky Limestone</text>
<text x="453.5" y="671.1" font-size="10.1" text-anchor="start" fill="#111" >Marly Limestone</text></svg>
</body></html>
